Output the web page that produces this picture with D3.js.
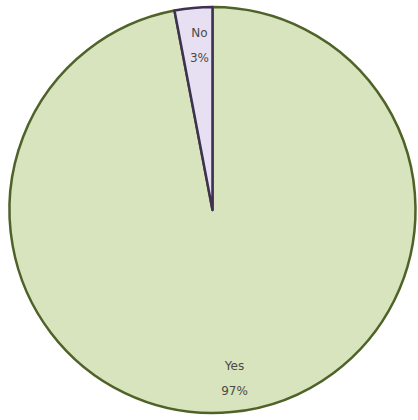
<!DOCTYPE html>
<html>
<head>
<meta charset="utf-8">
<script src="https://cdn.jsdelivr.net/npm/d3@7"></script>
<style>
  body { margin: 0; background: #fff; }
  text { font-family: "DejaVu Sans", sans-serif; font-size: 12px; fill: #4a4a4a; }
</style>
</head>
<body>
<div id="chart"></div>
<script>
const WIDTH = 418;
const HEIGHT = 420;

// datos
const categorias = ["Yes", "No"];
const valores = [97, 3];
const etiquetas = ["97%", "3%"];

const datos = categorias.map((c, i) => ({ cat: c, valor: valores[i], etiqueta: etiquetas[i] }));

const rellenos = { Yes: "#d7e4bd", No: "#e6e0f2" };
const bordes = { Yes: "#4f6228", No: "#3f3151" };

const svg = d3.select("#chart")
  .append("svg")
  .attr("width", WIDTH)
  .attr("height", HEIGHT);

const radio = 203;
const g = svg.append("g")
  .attr("transform", "translate(212.5, 210)");

const pie = d3.pie()
  .value(d => d.valor)
  .sort(null);

const arco = d3.arc()
  .innerRadius(0)
  .outerRadius(radio);

const arcos = pie(datos);

g.selectAll("path")
  .data(arcos)
  .join("path")
  .attr("d", arco)
  .attr("fill", d => rellenos[d.data.cat])
  .attr("stroke", d => bordes[d.data.cat])
  .attr("stroke-width", 2.5)
  .attr("stroke-linejoin", "round");

// etiquetas
const arcoTexto = d3.arc()
  .innerRadius(radio * 0.84)
  .outerRadius(radio * 0.84);

const posTexto = {
  Yes: d => [22, 160],
  No: d => { const c = arcoTexto.centroid(d); return [c[0] + 3, -173]; }
};

const grupos = g.selectAll("g.etiqueta")
  .data(arcos)
  .join("g")
  .attr("class", "etiqueta")
  .attr("transform", d => `translate(${posTexto[d.data.cat](d)})`);

grupos.append("text")
  .attr("text-anchor", "middle")
  .attr("y", 0)
  .text(d => d.data.cat);

grupos.append("text")
  .attr("text-anchor", "middle")
  .attr("y", 25)
  .text(d => d.data.etiqueta);
</script>
</body>
</html>
